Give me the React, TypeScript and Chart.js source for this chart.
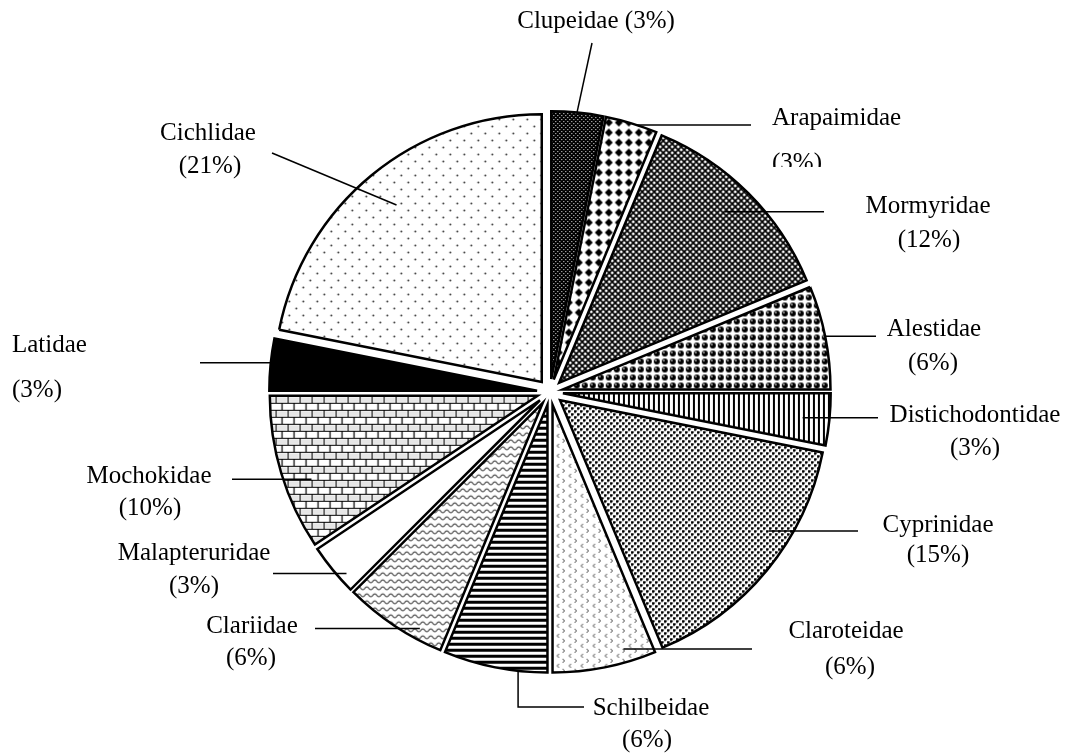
import React, { useEffect, useRef } from 'react';
import { Chart, registerables } from 'chart.js';

Chart.register(...registerables);

// ---- data ----
const families = [
  'Clupeidae', 'Arapaimidae', 'Mormyridae', 'Alestidae', 'Distichodontidae',
  'Cyprinidae', 'Claroteidae', 'Schilbeidae', 'Clariidae', 'Malapteruridae',
  'Mochokidae', 'Latidae', 'Cichlidae',
];
const speciesCounts = [1, 1, 4, 2, 1, 5, 2, 2, 2, 1, 3, 1, 7];
const percentLabels = ['3%', '3%', '12%', '6%', '3%', '15%', '6%', '6%', '6%', '3%', '10%', '3%', '21%'];

// ---- layout / style ----
const W = 1070;
const H = 754;
const EXPLODE = 13;
const FONT = '25px "Liberation Serif", "Times New Roman", serif';

type Step = ['h', number] | ['v', number] | ['p', number, number];
interface LabelLayout {
  nx: number; ny: number; px?: number; py?: number;
  align: CanvasTextAlign; single?: boolean; clipBottom?: number;
  t: number; k: number; path: Step[];
}

const labelLayout: LabelLayout[] = [
  { nx: 596, ny: 28, align: 'center', single: true, t: 0.49, k: 1.0, path: [['p', 592, 43]] },
  { nx: 772, ny: 125, px: 772, py: 170, align: 'left', clipBottom: 167, t: 0.6, k: 1.0, path: [['h', 751]] },
  { nx: 928, ny: 213, px: 929, py: 247, align: 'center', t: 0.48, k: 0.89, path: [['h', 824]] },
  { nx: 934, ny: 336, px: 933, py: 370, align: 'center', t: 0.49, k: 1.0, path: [['h', 876]] },
  { nx: 975, ny: 422, px: 975, py: 455, align: 'center', t: 0.52, k: 0.9, path: [['h', 878]] },
  { nx: 938, ny: 532, px: 938, py: 562, align: 'center', t: 0.37, k: 0.92, path: [['h', 858]] },
  { nx: 846, ny: 638, px: 850, py: 674, align: 'center', t: 0.28, k: 0.95, path: [['h', 752]] },
  { nx: 651, ny: 715, px: 647, py: 747, align: 'center', t: 0.28, k: 1.0, path: [['v', 707], ['h', 584]] },
  { nx: 252, ny: 633, px: 251, py: 665, align: 'center', t: 0.27, k: 0.96, path: [['h', 315]] },
  { nx: 194, ny: 560, px: 194, py: 593, align: 'center', t: 0.28, k: 0.97, path: [['h', 273]] },
  { nx: 149, ny: 483, px: 150, py: 515, align: 'center', t: 0.4, k: 0.9, path: [['h', 232]] },
  { nx: 12, ny: 352, px: 12, py: 397, align: 'left', t: 0.59, k: 0.9, path: [['h', 200]] },
  { nx: 208, ny: 140, px: 210, py: 173, align: 'center', t: 0.5, k: 0.855, path: [['p', 272, 153]] },
];

// ---- patterns ----
function tile(w: number, h: number, draw: (g: CanvasRenderingContext2D) => void): CanvasPattern | string {
  const c = document.createElement('canvas');
  c.width = w;
  c.height = h;
  const g = c.getContext('2d');
  if (!g) return '#888';
  g.fillStyle = '#fff';
  g.fillRect(0, 0, w, h);
  draw(g);
  return g.createPattern(c, 'repeat') || '#888';
}

function makePatterns(): (CanvasPattern | string)[] {
  const darkDots = tile(4, 4, (g) => {
    g.fillStyle = '#000'; g.fillRect(0, 0, 4, 4);
    g.fillStyle = '#fff'; g.fillRect(0, 0, 1, 1); g.fillRect(2, 2, 1, 1);
  });
  const diamonds = tile(10, 10, (g) => {
    g.fillStyle = '#000';
    g.beginPath(); g.moveTo(5, 1); g.lineTo(9, 5); g.lineTo(5, 9); g.lineTo(1, 5); g.closePath(); g.fill();
  });
  const mesh = tile(6, 6, (g) => {
    g.strokeStyle = '#000'; g.lineWidth = 1.7;
    g.beginPath();
    g.moveTo(-1, -1); g.lineTo(7, 7);
    g.moveTo(7, -1); g.lineTo(-1, 7);
    g.stroke();
  });
  const spheres = tile(8, 8, (g) => {
    g.fillStyle = '#000'; g.beginPath(); g.arc(4, 4, 3, 0, Math.PI * 2); g.fill();
    g.fillStyle = '#bbb'; g.beginPath(); g.arc(3, 3, 0.9, 0, Math.PI * 2); g.fill();
  });
  const vstripes = tile(5, 1, (g) => { g.fillStyle = '#000'; g.fillRect(0, 0, 2, 1); });
  const confetti = tile(6, 6, (g) => {
    g.fillStyle = '#000';
    g.fillRect(0, 0, 2, 2);
    g.fillRect(3, 3, 2, 2);
    g.fillStyle = '#666';
    g.fillRect(2, 0, 1, 2); g.fillRect(0, 2, 2, 1);
    g.fillRect(5, 3, 1, 2); g.fillRect(3, 5, 2, 1);
  });
  const chevrons = tile(12, 10, (g) => {
    g.strokeStyle = '#444'; g.lineWidth = 1;
    g.beginPath();
    g.moveTo(4.5, 1); g.lineTo(2.5, 3); g.lineTo(4.5, 5);
    g.moveTo(8, 6); g.lineTo(10, 8); g.lineTo(8, 10);
    g.stroke();
  });
  const hstripes = tile(1, 6, (g) => { g.fillStyle = '#000'; g.fillRect(0, 0, 1, 3); });
  const waves = tile(8, 7, (g) => {
    g.strokeStyle = '#444'; g.lineWidth = 1.1;
    g.beginPath();
    for (let x = -1; x <= 9; x += 0.5) {
      const y = 3.5 + 1.4 * Math.sin((2 * Math.PI * x) / 8);
      if (x === -1) g.moveTo(x, y); else g.lineTo(x, y);
    }
    g.stroke();
  });
  const bricks = tile(12, 14, (g) => {
    g.strokeStyle = '#000'; g.lineWidth = 1.2;
    g.beginPath();
    g.moveTo(0, 0.5); g.lineTo(12, 0.5);
    g.moveTo(0, 7.5); g.lineTo(12, 7.5);
    g.moveTo(0.5, 0); g.lineTo(0.5, 7.5);
    g.moveTo(6.5, 7.5); g.lineTo(6.5, 14);
    g.stroke();
    g.fillStyle = '#e6e6e6';
    g.fillRect(1.5, 1.5, 10, 5);
  });
  const sparseDots = tile(14, 14, (g) => {
    g.fillStyle = '#333';
    g.beginPath(); g.arc(3.5, 3.5, 0.95, 0, Math.PI * 2); g.fill();
    g.beginPath(); g.arc(10.5, 10.5, 0.95, 0, Math.PI * 2); g.fill();
  });
  return [darkDots, diamonds, mesh, spheres, vstripes, confetti, chevrons, hstripes, waves, '#ffffff', bricks, '#000000', sparseDots];
}

const explodePlugin = {
  id: 'explodeSlices',
  beforeDatasetDraw(chart: any, args: any) {
    const ctx: CanvasRenderingContext2D = chart.ctx;
    args.meta.data.forEach((el: any) => {
      const mid = (el.startAngle + el.endAngle) / 2;
      ctx.save();
      ctx.translate(Math.cos(mid) * EXPLODE, Math.sin(mid) * EXPLODE);
      el.draw(ctx, chart.chartArea);
      ctx.restore();
    });
    return false;
  },
};

const labelPlugin = {
  id: 'leaderLabels',
  afterDraw(chart: any) {
    const ctx: CanvasRenderingContext2D = chart.ctx;
    const meta = chart.getDatasetMeta(0);
    ctx.save();
    ctx.strokeStyle = '#000';
    ctx.lineWidth = 1.5;
    meta.data.forEach((el: any, i: number) => {
      const L = labelLayout[i];
      if (!L) return;
      const mid = (el.startAngle + el.endAngle) / 2;
      const ax = el.x + Math.cos(mid) * EXPLODE;
      const ay = el.y + Math.sin(mid) * EXPLODE;
      const th = el.startAngle + L.t * (el.endAngle - el.startAngle);
      let x = ax + Math.cos(th) * el.outerRadius * L.k;
      let y = ay + Math.sin(th) * el.outerRadius * L.k;
      ctx.beginPath();
      ctx.moveTo(x, y);
      L.path.forEach((s) => {
        if (s[0] === 'h') x = s[1];
        else if (s[0] === 'v') y = s[1];
        else { x = s[1]; y = s[2]; }
        ctx.lineTo(x, y);
      });
      ctx.stroke();

      ctx.fillStyle = '#000';
      ctx.font = FONT;
      ctx.textBaseline = 'alphabetic';
      ctx.textAlign = L.align;
      const name = families[i];
      const pct = '(' + percentLabels[i] + ')';
      if (L.single) {
        ctx.fillText(name + ' ' + pct, L.nx, L.ny);
      } else {
        ctx.fillText(name, L.nx, L.ny);
        ctx.save();
        if (L.clipBottom !== undefined) {
          ctx.beginPath();
          ctx.rect(0, 0, W, L.clipBottom);
          ctx.clip();
        }
        ctx.fillText(pct, L.px as number, L.py as number);
        ctx.restore();
      }
    });
    ctx.restore();
  },
};

export default function App() {
  const ref = useRef<HTMLCanvasElement | null>(null);
  useEffect(() => {
    const canvas = ref.current;
    if (!canvas) return;
    const patterns = makePatterns();
    const chart = new Chart(canvas, {
      type: 'pie',
      data: {
        labels: families,
        datasets: [{
          data: speciesCounts,
          backgroundColor: patterns as any,
          borderColor: '#000',
          borderWidth: 2.5,
          hoverBorderWidth: 2.5,
          borderJoinStyle: 'miter',
          borderAlign: 'center',
        } as any],
      },
      options: {
        responsive: false,
        animation: false,
        devicePixelRatio: 1,
        events: [],
        layout: { padding: { left: 281, right: 251, top: 123, bottom: 93 } },
        plugins: {
          legend: { display: false },
          tooltip: { enabled: false },
          title: { display: false },
        },
      } as any,
      plugins: [explodePlugin, labelPlugin],
    });
    return () => chart.destroy();
  }, []);
  return (
    <div style={{ position: 'absolute', left: 0, top: 0, width: W, height: H, background: '#fff' }}>
      <canvas ref={ref} width={W} height={H} style={{ display: 'block', width: W, height: H }} />
    </div>
  );
}
